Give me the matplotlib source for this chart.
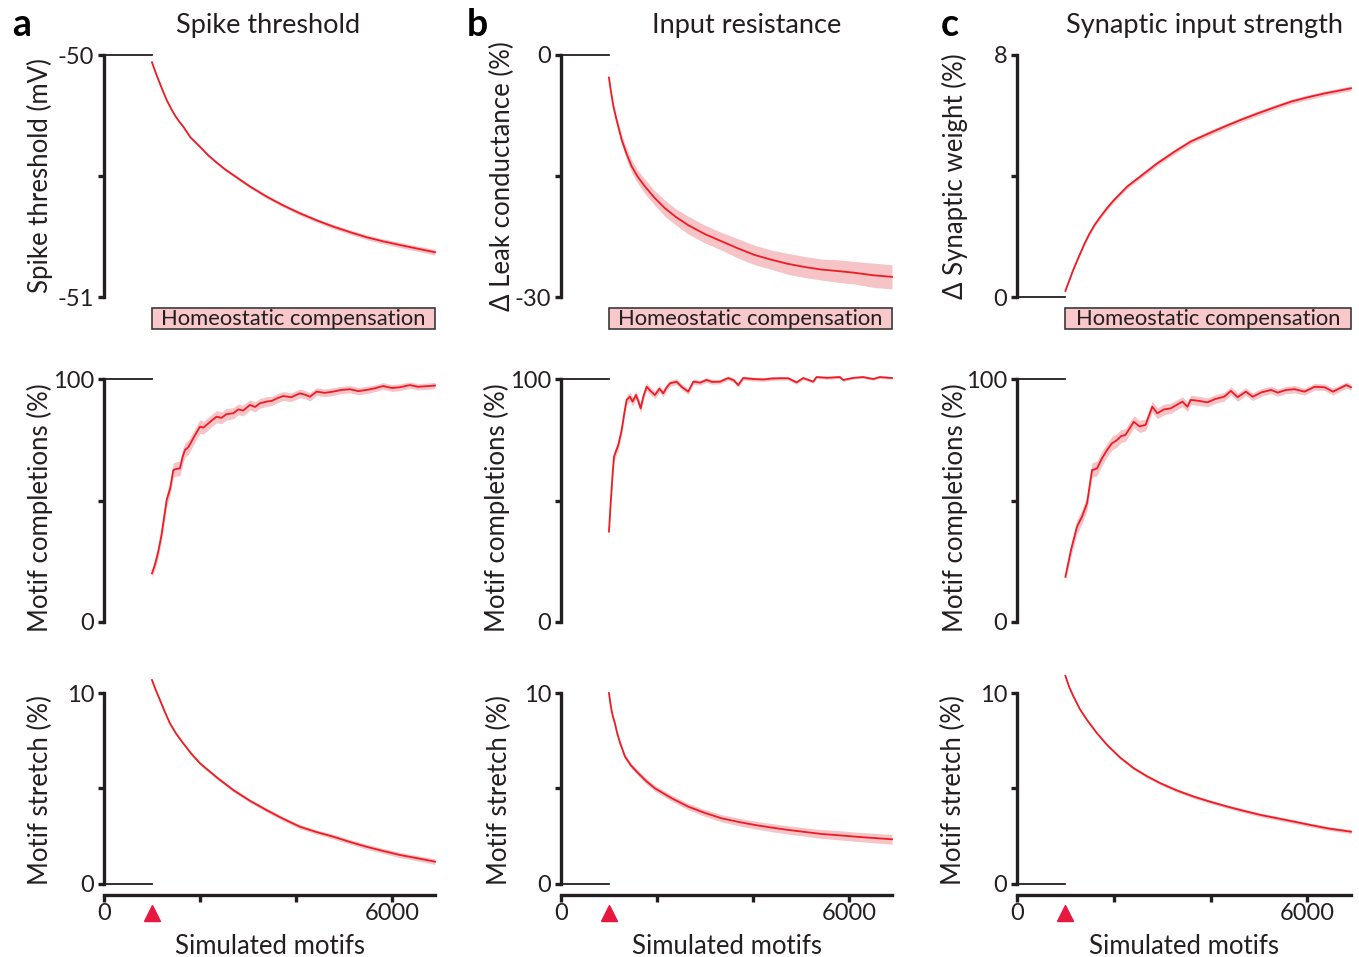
import numpy as np
import matplotlib
matplotlib.use('Agg')
import matplotlib.pyplot as plt
from matplotlib.patches import Rectangle

plt.rcParams['font.family'] = ['Lato', 'DejaVu Sans']

# onset of homeostatic compensation (simulated motifs)
onset = 1000

# --- a: spike threshold ---
thr_x = [1000, 1050, 1100, 1150, 1230, 1306, 1400, 1480, 1560, 1653, 1800, 2000, 2170, 2350,
         2520, 2694, 3040, 3389, 3730, 4083, 4430, 4778, 5130, 5472, 5820, 6167, 6530, 6900]
thr_y = [-50.03, -50.058, -50.085, -50.11, -50.15, -50.186, -50.222, -50.25, -50.273,
         -50.296, -50.34, -50.379, -50.414, -50.445, -50.472, -50.496, -50.543, -50.585,
         -50.621, -50.654, -50.683, -50.709, -50.732, -50.753, -50.77, -50.785, -50.8,
         -50.815]
thr_err = [0.002, 0.002, 0.003, 0.003, 0.003, 0.003, 0.004, 0.004, 0.004, 0.004, 0.005,
           0.005, 0.005, 0.005, 0.006, 0.006, 0.006, 0.007, 0.007, 0.008, 0.008, 0.009,
           0.009, 0.010, 0.010, 0.011, 0.011, 0.012]

comp_a_x = [1000, 1060, 1130, 1200, 1306, 1380, 1444, 1510, 1583, 1640, 1688, 1760, 1861,
            1930, 2000, 2070, 2139, 2250, 2347, 2450, 2550, 2694, 2800, 2900, 3042, 3150,
            3250, 3389, 3500, 3600, 3736, 3900, 4083, 4200, 4292, 4431, 4600, 4778, 4950,
            5125, 5300, 5472, 5650, 5819, 6000, 6167, 6375, 6550, 6700, 6900]
comp_a_y = [20.0, 23.5, 28.9, 36.0, 50.2, 55.0, 62.5, 63.0, 63.2, 68.0, 70.8, 72.0, 75.6,
            78.0, 80.4, 80.0, 81.1, 83.0, 84.5, 84.0, 85.5, 85.9, 87.5, 87.0, 89.3, 88.5,
            90.0, 90.7, 91.0, 92.0, 93.0, 92.5, 94.1, 93.5, 92.7, 94.8, 94.3, 94.8, 95.5,
            95.8, 95.0, 95.5, 96.2, 97.1, 96.3, 96.6, 97.5, 96.8, 97.0, 97.3]
comp_a_err = [1.5, 2.0, 2.5, 2.5, 2.8, 2.8, 3.0, 3.0, 3.0, 3.0, 3.0, 3.0, 2.8,
              2.8, 2.8, 2.6, 2.6, 2.5, 2.5, 2.4, 2.4, 2.3, 2.2, 2.2, 2.1, 2.0,
              2.0, 2.0, 1.9, 1.9, 1.8, 1.8, 1.8, 1.7, 1.7, 1.6, 1.6, 1.6, 1.5,
              1.5, 1.5, 1.5, 1.4, 1.4, 1.4, 1.4, 1.3, 1.3, 1.3, 1.3]

str_a_x = [1000, 1080, 1167, 1270, 1375, 1500, 1653, 1820, 2000, 2350, 2694, 3040, 3389,
           3730, 4083, 4430, 4778, 5130, 5472, 5820, 6167, 6530, 6900]
str_a_y = [10.68, 10.15, 9.63, 9.0, 8.41, 7.88, 7.36, 6.82, 6.32, 5.58, 4.92, 4.36, 3.87,
           3.42, 3.00, 2.72, 2.48, 2.20, 1.95, 1.73, 1.52, 1.35, 1.17]
str_a_err = [0.05, 0.05, 0.06, 0.06, 0.07, 0.07, 0.07, 0.08, 0.08, 0.08, 0.09, 0.09, 0.10,
             0.10, 0.11, 0.11, 0.12, 0.12, 0.13, 0.13, 0.14, 0.14, 0.15]

# --- b: input resistance ---
leak_x = [1000, 1030, 1060, 1090, 1125, 1160, 1200, 1264, 1370, 1473, 1600, 1750, 1950,
          2167, 2400, 2653, 3000, 3348, 3700, 4042, 4400, 4736, 5100, 5431, 5800, 6125,
          6500, 6900]
leak_y = [-2.8, -4.1, -5.2, -6.3, -7.2, -8.1, -9.0, -10.5, -12.3, -13.8, -15.1, -16.3,
          -17.7, -19.0, -20.1, -21.1, -22.2, -23.1, -24.0, -24.8, -25.4, -25.9, -26.3,
          -26.6, -26.8, -27.0, -27.3, -27.5]
leak_err = [0.2, 0.25, 0.3, 0.35, 0.4, 0.45, 0.5, 0.6, 0.7, 0.8, 0.8, 0.9, 0.9, 1.0, 1.0,
            1.1, 1.1, 1.1, 1.2, 1.2, 1.2, 1.3, 1.3, 1.3, 1.4, 1.4, 1.5, 1.5]

comp_b_x = [1000, 1035, 1077, 1104, 1150, 1194, 1264, 1320, 1368, 1438, 1493, 1563, 1610,
            1660, 1720, 1785, 1870, 1958, 2050, 2132, 2200, 2271, 2410, 2514, 2653, 2757,
            2900, 3035, 3150, 3313, 3486, 3600, 3694, 3798, 4000, 4215, 4400, 4563, 4736,
            4910, 5049, 5257, 5326, 5550, 5813, 5882, 6100, 6299, 6507, 6646, 6900]
comp_b_y = [37.2, 48.8, 61.2, 68.0, 70.5, 72.8, 79.0, 86.0, 91.4, 92.7, 90.7, 93.4, 91.0,
            87.9, 93.0, 96.8, 95.0, 93.4, 96.0, 94.1, 96.5, 98.2, 98.9, 96.8, 94.8, 98.9,
            98.5, 99.6, 98.8, 98.9, 100.4, 99.5, 97.5, 100.4, 100.0, 99.8, 100.2, 100.3,
            100.3, 98.6, 100.4, 98.9, 100.8, 100.5, 100.8, 99.6, 100.5, 100.8, 100.0,
            100.8, 100.4]
comp_b_err = [1.0, 1.5, 2.0, 2.0, 2.0, 2.0, 2.0, 2.0, 2.0, 1.8, 1.8, 1.8, 1.8,
              1.8, 1.6, 1.6, 1.5, 1.5, 1.4, 1.4, 1.3, 1.3, 1.2, 1.2, 1.1, 1.1,
              1.0, 1.0, 1.0, 0.9, 0.9, 0.9, 0.9, 0.8, 0.8, 0.8, 0.8, 0.7, 0.7,
              0.7, 0.7, 0.6, 0.6, 0.6, 0.6, 0.6, 0.5, 0.5, 0.5, 0.5, 0.5]

str_b_x = [1000, 1030, 1060, 1090, 1125, 1170, 1230, 1333, 1460, 1611, 1780, 1958, 2300,
           2653, 3000, 3348, 3700, 4042, 4400, 4736, 5100, 5431, 5800, 6125, 6500, 6900]
str_b_y = [10.0, 9.45, 9.0, 8.7, 8.4, 7.9, 7.4, 6.67, 6.2, 5.8, 5.38, 5.01, 4.50, 4.05,
           3.72, 3.44, 3.25, 3.09, 2.95, 2.83, 2.72, 2.62, 2.55, 2.48, 2.41, 2.34]
str_b_err = [0.05, 0.06, 0.08, 0.09, 0.10, 0.11, 0.12, 0.13, 0.13, 0.14, 0.15, 0.15, 0.16,
             0.17, 0.18, 0.19, 0.20, 0.20, 0.21, 0.22, 0.22, 0.23, 0.24, 0.24, 0.25, 0.25]

# --- c: synaptic input strength ---
syn_x = [1000, 1050, 1100, 1150, 1220, 1307, 1400, 1500, 1610, 1722, 1860, 2000, 2275,
         2600, 2898, 3250, 3589, 3950, 4280, 4630, 4973, 5320, 5664, 6000, 6355, 6650,
         6900]
syn_y = [0.2, 0.42, 0.63, 0.85, 1.12, 1.44, 1.78, 2.10, 2.40, 2.65, 2.94, 3.20, 3.65,
         4.05, 4.42, 4.80, 5.14, 5.40, 5.63, 5.86, 6.07, 6.27, 6.46, 6.60, 6.73, 6.82,
         6.90]
syn_err = [0.02, 0.02, 0.03, 0.03, 0.04, 0.04, 0.05, 0.05, 0.06, 0.06, 0.07, 0.07, 0.07,
           0.08, 0.08, 0.08, 0.08, 0.08, 0.08, 0.08, 0.08, 0.08, 0.08, 0.08, 0.08, 0.08,
           0.08]

comp_c_x = [1000, 1120, 1239, 1342, 1446, 1550, 1653, 1760, 1861, 1960, 2068, 2150, 2241,
            2413, 2530, 2656, 2794, 2898, 3040, 3174, 3416, 3520, 3589, 3760, 3935, 4100,
            4280, 4419, 4558, 4730, 4868, 5050, 5248, 5387, 5560, 5733, 5940, 6148, 6355,
            6529, 6700, 6805, 6900]
comp_c_y = [18.6, 30.0, 39.2, 43.3, 48.8, 62.5, 63.2, 67.5, 70.8, 73.5, 74.9, 76.5, 77.0,
            82.4, 80.5, 81.1, 88.6, 85.9, 87.5, 87.9, 90.7, 88.6, 91.4, 91.0, 90.4, 91.8,
            92.7, 95.1, 92.5, 94.8, 92.7, 94.5, 95.5, 94.4, 95.5, 95.8, 94.8, 96.8, 96.6,
            94.8, 96.5, 97.5, 96.6]
comp_c_err = [1.5, 2.5, 3.0, 3.0, 3.0, 3.0, 3.0, 3.0, 2.8, 2.8, 2.8, 2.6, 2.6,
              2.5, 2.5, 2.4, 2.3, 2.2, 2.2, 2.1, 2.0, 2.0, 1.9, 1.9, 1.8, 1.8,
              1.8, 1.7, 1.7, 1.6, 1.6, 1.6, 1.5, 1.5, 1.5, 1.5, 1.4, 1.4, 1.4,
              1.4, 1.3, 1.3, 1.3]

str_c_x = [1000, 1080, 1168, 1300, 1446, 1650, 1861, 2130, 2413, 2700, 2967, 3300, 3658,
           4000, 4350, 4700, 5041, 5400, 5733, 6080, 6425, 6700, 6900]
str_c_y = [10.9, 10.3, 9.81, 9.15, 8.59, 7.90, 7.28, 6.62, 6.06, 5.62, 5.27, 4.90, 4.57,
           4.30, 4.05, 3.82, 3.61, 3.43, 3.26, 3.08, 2.91, 2.81, 2.74]
str_c_err = [0.04, 0.05, 0.05, 0.05, 0.06, 0.06, 0.07, 0.07, 0.08, 0.08, 0.08, 0.09, 0.09,
             0.09, 0.09, 0.10, 0.10, 0.10, 0.10, 0.10, 0.10, 0.10, 0.10]

titles = ['Spike threshold', 'Input resistance', 'Synaptic input strength']
letters = ['a', 'b', 'c']
top_labels = ['Spike threshold (mV)', '\u0394 Leak conductance (%)', '\u0394 Synaptic weight (%)']

RED = '#ed1c24'
BAND = '#f6c3c7'
DARK = '#231f20'

W, H = 1359, 957
fig = plt.figure(figsize=(W / 100, H / 100), dpi=100)


def px_axes(left, top, width, height):
    return fig.add_axes([left / W, 1 - (top + height) / H, width / W, height / H])


def draw(ax, x, y, err, base):
    x = np.array(x); y = np.array(y); err = np.array(err)
    ax.fill_between(x, y - err, y + err, color=BAND, lw=0, zorder=1, clip_on=False)
    ax.plot(x, y, color=RED, lw=1.3, zorder=2, clip_on=False)
    ax.plot([0, onset], [base, base], color=DARK, lw=1.3, clip_on=False, zorder=3)
    ax.set_xlim(0, 6900)
    for s in ['top', 'right']:
        ax.spines[s].set_visible(False)
    ax.spines['left'].set_linewidth(2.4)
    ax.spines['left'].set_color(DARK)
    ax.tick_params(axis='y', direction='out', length=4, width=2.4, color=DARK,
                   labelsize=17, pad=3, labelcolor=DARK)


cols = [(104, 331), (561, 331), (1017, 334)]
ylab_x = [(-0.154, -0.154, -0.154), (-0.14, -0.154, -0.148), (-0.147, -0.147, -0.153)]
title_x = [268, 747, 1204]
letter_x = [12, 467, 941]

top_data = [
    (thr_x, thr_y, thr_err, -50, (-51, -50), [-51, -50.5, -50], ['-51', '', '-50']),
    (leak_x, leak_y, leak_err, 0, (-30, 0), [-30, -15, 0], ['-30', '', '0']),
    (syn_x, syn_y, syn_err, 0, (0, 8), [0, 4, 8], ['0', '', '8']),
]
mid_data = [(comp_a_x, comp_a_y, comp_a_err), (comp_b_x, comp_b_y, comp_b_err),
            (comp_c_x, comp_c_y, comp_c_err)]
bot_data = [(str_a_x, str_a_y, str_a_err), (str_b_x, str_b_y, str_b_err),
            (str_c_x, str_c_y, str_c_err)]

LABEL_FS = 18.5

for i, (left, width) in enumerate(cols):
    # top row
    ax = px_axes(left, 55, width, 242)
    x, y, e, base, lim, ticks, tl = top_data[i]
    draw(ax, x, y, e, base)
    ax.set_ylim(*lim)
    ax.set_yticks(ticks)
    ax.set_yticklabels(tl)
    ax.spines['bottom'].set_visible(False)
    ax.set_xticks([])
    ax.set_ylabel(top_labels[i], fontsize=LABEL_FS, color=DARK)
    ax.yaxis.set_label_coords(ylab_x[i][0], 0.5)
    ax.add_patch(Rectangle((onset, -0.132), 6900 - onset, 0.087,
                           transform=ax.get_xaxis_transform(), clip_on=False,
                           facecolor='#f8c8cb', edgecolor='#3a3a3a', lw=1.2))
    ax.text((onset + 6900) / 2, -0.089, 'Homeostatic compensation',
            transform=ax.get_xaxis_transform(), ha='center', va='center',
            fontsize=15.8, color=DARK)
    fig.text(title_x[i] / W, 1 - 26 / H, titles[i], ha='center', va='center',
             fontsize=19.5, color=DARK)
    fig.text(letter_x[i] / W, 1 - 25 / H, letters[i], ha='left', va='center',
             fontsize=27, fontweight='bold', color='black')

    # middle row
    ax = px_axes(left, 379, width, 243)
    x, y, e = mid_data[i]
    draw(ax, x, y, e, 100)
    ax.set_ylim(0, 100)
    ax.set_yticks([0, 50, 100])
    ax.set_yticklabels(['0', '', '100'])
    ax.spines['bottom'].set_visible(False)
    ax.set_xticks([])
    ax.set_ylabel('Motif completions (%)', fontsize=LABEL_FS, color=DARK)
    ax.yaxis.set_label_coords(ylab_x[i][1], 0.47)

    # bottom row
    ax = px_axes(left, 693, width, 202)
    x, y, e = bot_data[i]
    draw(ax, x, y, e, 0)
    ax.set_ylim(-0.576, 10)
    ax.spines['left'].set_bounds(0, 10)
    ax.set_yticks([0, 5, 10])
    ax.set_yticklabels(['0', '', '10'])
    ax.spines['bottom'].set_linewidth(2.4)
    ax.spines['bottom'].set_color(DARK)
    ax.set_xticks([0, 2000, 4000, 6000])
    ax.set_xticklabels(['0', '', '', '6000'])
    ax.tick_params(axis='x', direction='out', length=5, width=2.4, color=DARK,
                   labelsize=17, pad=1, labelcolor=DARK)
    ax.set_xlabel('Simulated motifs', fontsize=LABEL_FS, color=DARK, labelpad=7)
    ax.set_ylabel('Motif stretch (%)', fontsize=LABEL_FS, color=DARK)
    ax.yaxis.set_label_coords(ylab_x[i][2], 0.52)
    ax.plot([onset], [-0.09], marker='^', color='#e8173f', markersize=11,
            transform=ax.get_xaxis_transform(), clip_on=False, zorder=5)

fig.savefig('out.png', dpi=100)
